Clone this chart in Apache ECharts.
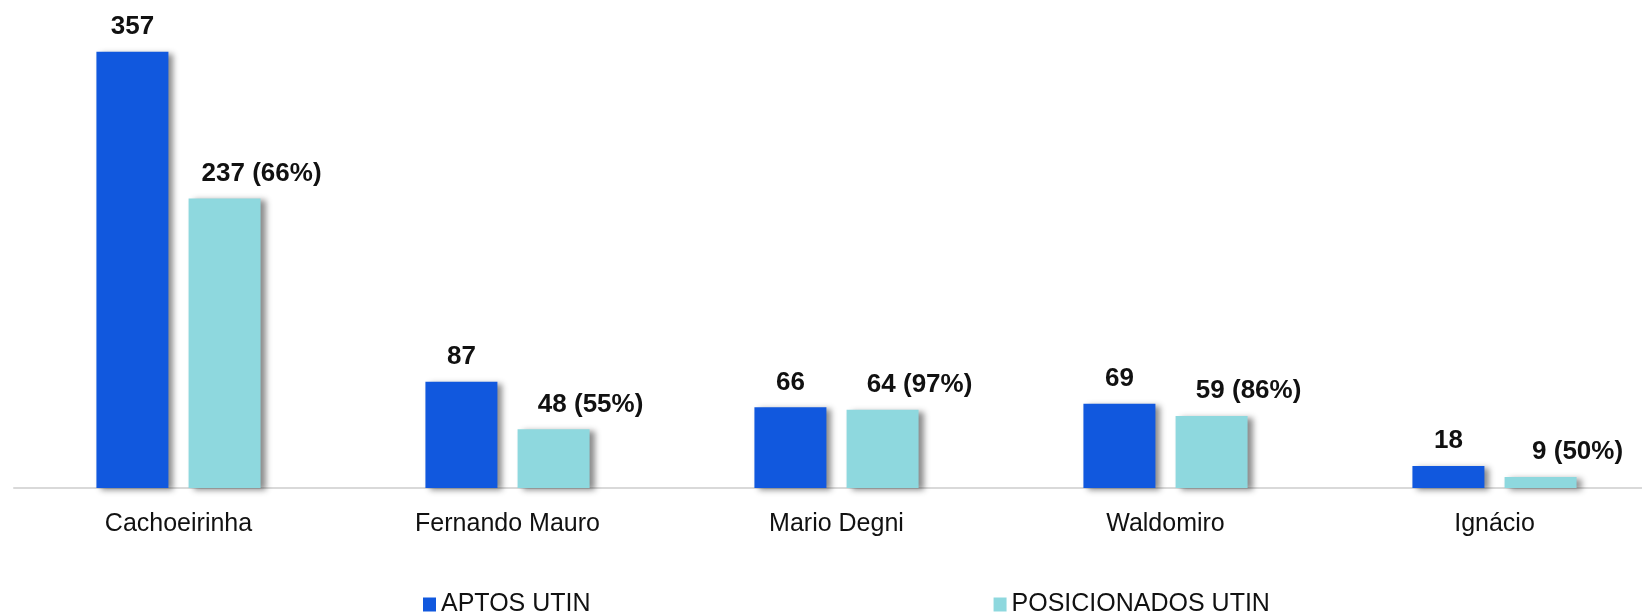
<!DOCTYPE html>
<html>
<head>
<meta charset="utf-8">
<script src="https://cdn.jsdelivr.net/npm/echarts@6/dist/echarts.min.js"></script>
<style>
html,body{margin:0;padding:0;background:#fff;}
#chart{width:1642px;height:614px;}
</style>
</head>
<body>
<div id="chart"></div>
<script>
const categories = ['Cachoeirinha', 'Fernando Mauro', 'Mario Degni', 'Waldomiro', 'Ignácio'];
const aptosUtin = [357, 87, 66, 69, 18];
const posicionadosUtin = [237, 48, 64, 59, 9];
const seriesNames = ['APTOS UTIN', 'POSICIONADOS UTIN'];

const FONT = '"Liberation Sans", Arial, sans-serif';
const chart = echarts.init(document.getElementById('chart'), null, {renderer: 'canvas'});

const shadow = {shadowColor: 'rgba(0,0,0,0.45)', shadowBlur: 6, shadowOffsetX: 5, shadowOffsetY: 2};

chart.setOption({
  animation: false,
  backgroundColor: '#ffffff',
  legend: {
    data: seriesNames,
    left: 418,
    top: 587,
    itemWidth: 13,
    itemHeight: 14,
    itemGap: 403,
    icon: 'rect',
    textStyle: {fontFamily: FONT, fontSize: 25, color: '#111'}
  },
  grid: [
    {left: 178.5, top: 20, width: 1316, bottom: 126, containLabel: false},
    {left: 14, top: 20, right: 0, bottom: 126, containLabel: false}
  ],
  xAxis: [
    {
      type: 'category',
      gridIndex: 0,
      data: categories,
      boundaryGap: false,
      axisLine: {show: false},
      axisTick: {show: false},
      splitLine: {show: false},
      axisLabel: {fontFamily: FONT, fontSize: 25, color: '#111', margin: 24}
    },
    {
      type: 'value',
      gridIndex: 1,
      min: 0,
      max: 1,
      axisLine: {show: true, lineStyle: {color: '#d9d9d9', width: 2}},
      axisTick: {show: false},
      axisLabel: {show: false},
      splitLine: {show: false}
    }
  ],
  yAxis: [
    {type: 'value', gridIndex: 0, min: 0, max: 383, show: false, splitLine: {show: false}},
    {type: 'value', gridIndex: 1, min: 0, max: 1, show: false, splitLine: {show: false}}
  ],
  series: [
    {
      name: seriesNames[0],
      type: 'bar',
      data: aptosUtin,
      barWidth: 72,
      barGap: '28%',
      z: 3,
      itemStyle: Object.assign({color: '#1158de'}, shadow),
      label: {
        show: true,
        position: 'top',
        distance: 12,
        fontFamily: FONT,
        fontSize: 26,
        fontWeight: 'bold',
        color: '#111'
      }
    },
    {
      name: seriesNames[1],
      type: 'bar',
      data: posicionadosUtin,
      barWidth: 72,
      z: 3,
      itemStyle: Object.assign({color: '#8ed8de'}, shadow),
      label: {
        show: true,
        position: 'top',
        distance: 12,
        offset: [37, 0],
        fontFamily: FONT,
        fontSize: 26,
        fontWeight: 'bold',
        color: '#111',
        formatter: function (p) {
          const pct = Math.round(p.value / aptosUtin[p.dataIndex] * 100);
          return p.value + ' (' + pct + '%)';
        }
      }
    }
  ]
});
</script>
</body>
</html>
